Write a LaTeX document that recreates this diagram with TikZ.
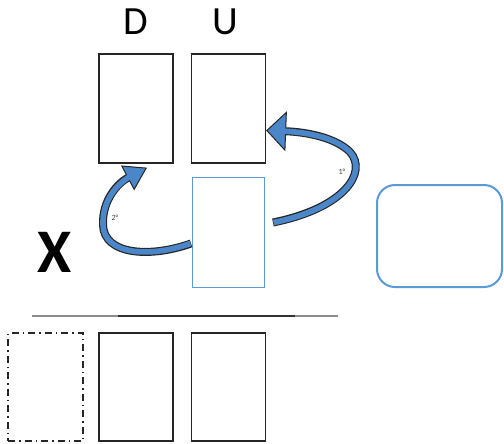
\documentclass[tikz,border=0pt]{standalone}
\usepackage{fontspec}
\setmainfont{Carlito}
\usetikzlibrary{arrows.meta}
\definecolor{slotblue}{HTML}{5B9BD5}
\definecolor{arrowblue}{HTML}{4A86C8}
\tikzstyle{slot} = [rectangle, minimum width=74pt, minimum height=109pt, inner sep=0pt, draw=black!85, line width=1.3pt]
\tikzstyle{blueslot} = [rectangle, minimum width=72pt, minimum height=110pt, inner sep=0pt, draw=slotblue, line width=0.9pt]
\tikzstyle{ghostslot} = [rectangle, minimum width=75pt, minimum height=108pt, inner sep=0pt, draw=black!85, line width=1.2pt, dash pattern=on 7pt off 4pt on 1.5pt off 4pt]
\tikzstyle{store} = [rectangle, rounded corners=18pt, minimum width=125pt, minimum height=102pt, inner sep=0pt, draw=slotblue, line width=2pt]
\tikzstyle{head} = [font=\fontsize{40}{40}\selectfont]
\tikzstyle{order} = [font=\fontsize{8}{8}\selectfont, text=black!75, inner sep=0pt]
\tikzstyle{bendout} = [line width=8pt, draw=black!85]
\tikzstyle{bendin} = [line width=5.6pt, draw=arrowblue]

\begin{document}
\begin{tikzpicture}[x=1pt, y=-1pt, node distance=92.5pt]
\useasboundingbox (0,0) rectangle (504,444);

\node (topD) [slot] at (136,108.5) {};
\node (topU) [slot, right of=topD] {};
\node (moved) [blueslot, below of=topU, yshift=-31.5pt] {};
\node (buffer) [store] at (439.5,236) {};

\node (lblD) [head] at (136,22) {D};
\node (lblU) [head] at (225,22) {U};
\node (lblX) [font=\fontsize{62}{62}\selectfont\bfseries] at (55,252) {X};

\draw [black!45, line width=1.3pt] (32,316) -- (338,316);
\draw [black!80, line width=1.3pt] (118,316) -- (295,316);

\node (botD) [slot, minimum height=108pt] at (136,387) {};
\node (botU) [slot, minimum height=108pt, right of=botD] {};
\node (ghost) [ghostslot, left of=botD, xshift=2pt] {};

% 1st move: back up to U
\draw [bendout, -{Triangle[width=40pt, length=20pt, line width=1pt, fill=arrowblue]}]
  ([xshift=8pt, yshift=10pt]moved.east) .. controls (345,208) and (368,172) .. (350,152)
  .. controls (335,137) and (305,132) .. ([yshift=-22pt]topU.east);
\draw [bendin, shorten >=17pt]
  ([xshift=8.6pt, yshift=10pt]moved.east) .. controls (345,208) and (368,172) .. (350,152)
  .. controls (335,137) and (305,132) .. ([yshift=-22pt]topU.east);
\node (first) [order] at (342,172) {1°};

% 2nd move: over to D
\draw [bendout, -{Triangle[width=28pt, length=22pt, line width=1pt, fill=arrowblue]}]
  ([xshift=-1pt, yshift=-11pt]moved.west) .. controls (150,258) and (104,255) .. (103,225)
  .. controls (102,200) and (118,183) .. ([xshift=11pt, yshift=-4pt]topD.south);
\draw [bendin, shorten >=19pt]
  ([xshift=-1.6pt, yshift=-11pt]moved.west) .. controls (150,258) and (104,255) .. (103,225)
  .. controls (102,200) and (118,183) .. ([xshift=11pt, yshift=-4pt]topD.south);
\node (second) [order] at (115,218) {2°};

\end{tikzpicture}
\end{document}
